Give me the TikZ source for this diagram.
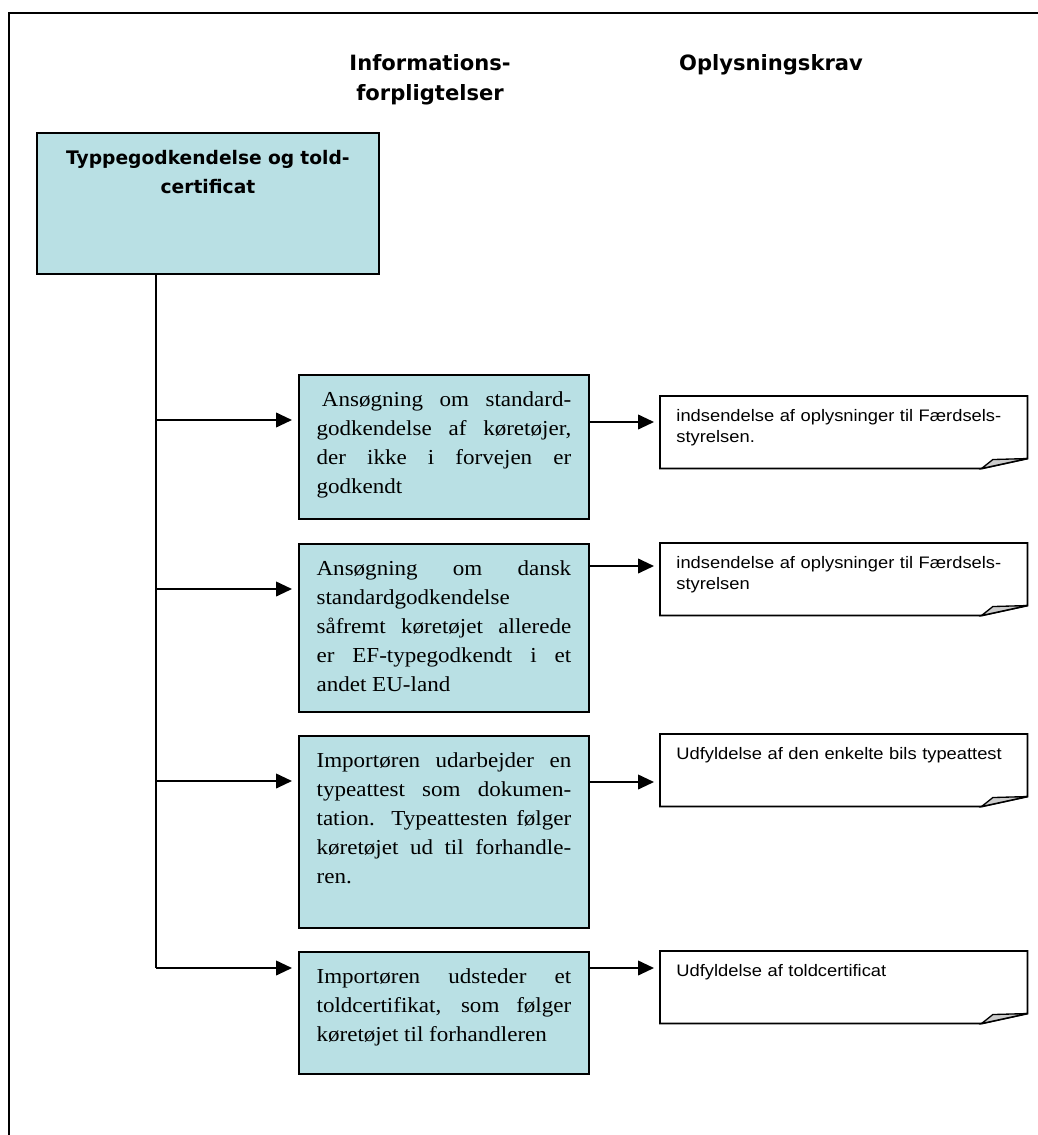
\documentclass[tikz,border=0pt]{standalone}
\usepackage{xcolor}
\usepackage{tikz}
\usepackage{fontspec}
\setmainfont{Liberation Serif}[FakeStretch=1.08]
\newfontfamily\notefont{Liberation Sans}[FakeStretch=1.1]
\newfontfamily\headfont{DejaVu Sans}
\usetikzlibrary{arrows.meta, calc}
\definecolor{boxblue}{RGB}{185,224,228}
\hyphenpenalty=10000
\tolerance=10000

\begin{document}
\begin{tikzpicture}[
    x=0.75pt, y=-0.75pt,
    header/.style={
        anchor=north, inner sep=0pt, align=center,
        font=\headfont\bfseries\fontsize{15.8}{22.5}\selectfont
    },
    topbox/.style={
        rectangle, anchor=north west, draw=black, line width=1.4pt, fill=boxblue,
        text width=240.5pt, inner xsep=8pt, inner ysep=13.4pt,
        text height=10.6pt, text depth=68.35pt, align=center,
        font=\headfont\bfseries\fontsize{14}{21.75}\selectfont
    },
    infobox/.style={
        rectangle, anchor=north west, draw=black, line width=1.4pt, fill=boxblue,
        text width=191pt, inner xsep=13.25pt, inner ysep=12pt,
        text height=11.5pt, align=justify,
        font=\fontsize{16}{21.75}\selectfont
    },
    note/.style={
        rectangle, anchor=north west, text width=251pt, inner xsep=12.125pt,
        inner ysep=10pt, text height=9pt, text depth=25pt, align=left,
        font=\notefont\fontsize{12.5}{15.75}\selectfont
    },
    line/.style={line width=1.4pt},
    frame/.style={line width=1.8pt},
    fold/.style={draw=black, line width=1pt, fill=gray!40},
    arrow/.style={-{Triangle[length=12pt, width=11pt]}, line width=1.4pt, shorten >=4.5pt}
]
    \useasboundingbox (0,0) rectangle (1038,1135);
    \draw[frame] (9,1135) -- (9,13) -- (1038,13);

    \node[header] (hinfo) at (430,54) {Informations-\\forpligtelser};
    \node[header] (hkrav) at (771,54) {Oplysningskrav};

    \node[topbox] (T) at (36,132) {Typpegodkendelse og told-\\certificat};

    \node[infobox, text depth=72.5pt]  (B1) at (298,374) {\hspace*{4pt}Ansøgning om standard-\linebreak godkendelse af køretøjer,\linebreak der ikke i forvejen er\linebreak godkendt};
    \node[infobox, text depth=90.5pt]  (B2) at (298,543) {Ansøgning om dansk\linebreak standardgodkendelse\linebreak såfremt køretøjet allerede\linebreak er EF-typegodkendt i et\linebreak andet EU-land};
    \node[infobox, text depth=108.5pt] (B3) at (298,735) {Importøren udarbejder en\linebreak typeattest som dokumen-\linebreak tation. Typeattesten følger\linebreak køretøjet ud til forhandle-\linebreak ren.};
    \node[infobox, text depth=56pt]    (B4) at (298,951) {Importøren udsteder et\linebreak toldcertifikat, som følger\linebreak køretøjet til forhandleren};

    \node[note] (N1) at (660,396) {indsendelse af oplysninger til Færdsels-\\styrelsen.};
    \node[note] (N2) at (660,543) {indsendelse af oplysninger til Færdsels-\\styrelsen};
    \node[note] (N3) at (660,734) {Udfyldelse af den enkelte bils typeattest};
    \node[note] (N4) at (660,951) {Udfyldelse af toldcertificat};

    \foreach \n in {N1, N2, N3, N4} {
        \draw[line] (\n.north west) -- (\n.north east) -- ([yshift=7.5pt]\n.south east)
            -- ([xshift=-34.5pt]\n.south east) -- (\n.south west) -- cycle;
        \draw[fold] ([xshift=-34.5pt]\n.south east) -- ([xshift=-26pt, yshift=6.75pt]\n.south east)
            -- ([yshift=7.5pt]\n.south east) -- cycle;
    }

    \coordinate (trunk) at (156,273);
    \draw[line] (trunk) -- (trunk |- 0,968);
    \foreach \b/\y in {B1/420, B2/589, B3/781, B4/968} {
        \draw[arrow] (trunk |- 0,\y) -- (\b.west |- 0,\y);
    }
    \foreach \b/\n/\y in {B1/N1/422, B2/N2/566, B3/N3/782, B4/N4/968} {
        \draw[arrow] (\b.east |- 0,\y) -- (\n.west |- 0,\y);
    }
\end{tikzpicture}
\end{document}
